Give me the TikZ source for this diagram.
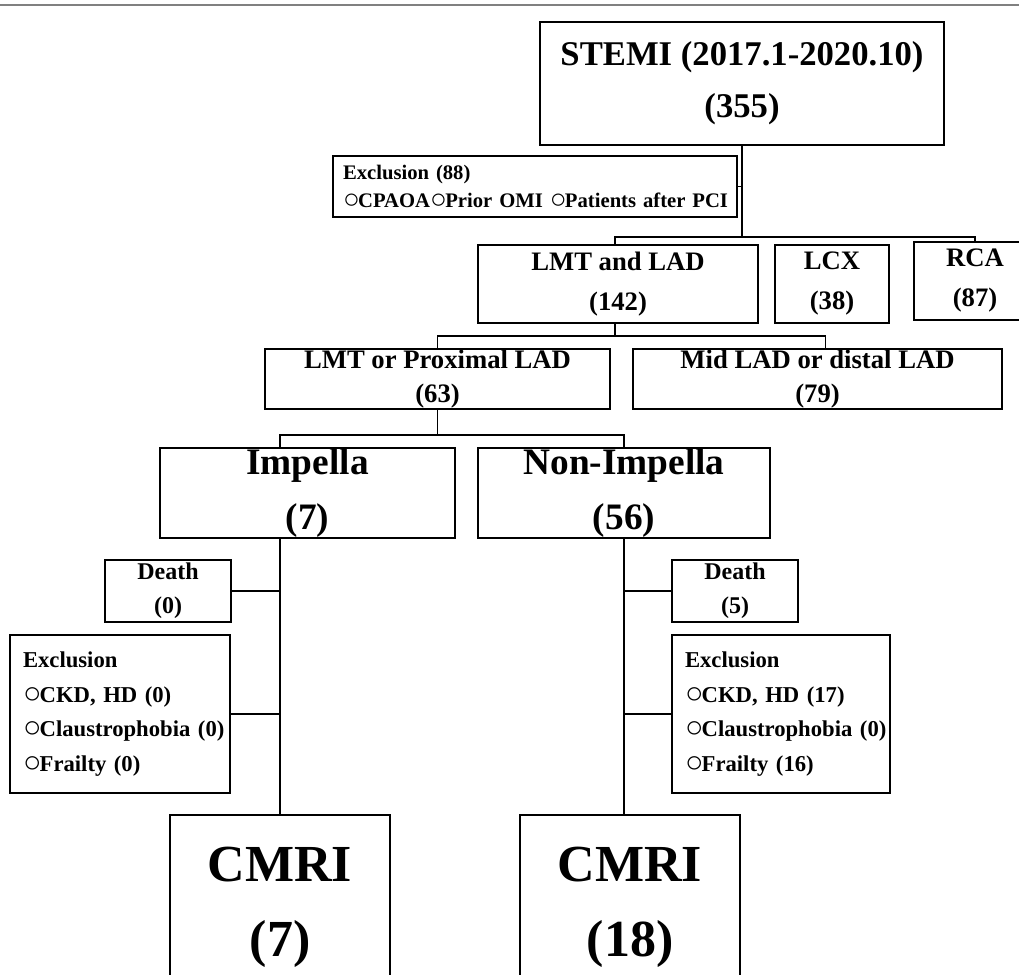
\documentclass[tikz,border=0pt]{standalone}
\usepackage{fontspec}
\setmainfont{Liberation Serif}
\usepackage{graphicx}
\usepackage{tikz}
\usetikzlibrary{positioning}
\newcommand{\fsz}[2]{\fontsize{#1pt}{#2pt}\selectfont\bfseries}
\newcommand{\ci}{\raisebox{-0.05em}{\scalebox{1.35}{○}}\kern-0.08em}

\begin{document}
\begin{tikzpicture}[x=0.75pt,y=-0.75pt,font=\bfseries,
 b/.style={draw,line width=2.2pt,inner sep=0pt,align=center},
 bx/.style 2 args={minimum width=#1*0.75pt,minimum height=#2*0.75pt},
 d/.style={line width=1.2pt}]
\path[use as bounding box] (0,0) rectangle (1019,974);
\clip (0,0) rectangle (1019,974);
\draw[gray,line width=1.6pt] (0,5) -- (1019,5);
% top
\node[b,bx={404}{123},font=\fsz{26}{39}] (stemi) at (742,83.5) {STEMI (2017.1-2020.10)\\(355)};
\node[b,bx={404}{61},font=\fsz{15.5}{21},align=left,text width=288pt,inner xsep=7.5pt] (ex88) at (535,186.5) {\mbox{Exclusion (88)}\\\mbox{\ci CPAOA\ci Prior OMI \ci Patients after PCI}};
% vessels
\node[b,bx={280}{78},font=\fsz{20}{30}] (lad) at (618,284) {LMT and LAD\\(142)};
\node[b,bx={114}{78},font=\fsz{20}{30}] (lcx) at (832,284) {LCX\\(38)};
\node[b,bx={122}{78},font=\fsz{20}{30}] (rca) at (975,281) {RCA\\(87)};
\node[b,bx={345}{60},font=\fsz{20}{25.5}] (prox) at (437.5,379) {LMT or Proximal LAD\\(63)};
\node[b,bx={369}{60},font=\fsz{20}{25.5}] (mid) at (817.5,379) {Mid LAD or distal LAD\\(79)};
% groups
\node[b,bx={295}{90},font=\fsz{28}{41.5}] (imp) at (307.5,493) {Impella\\(7)};
\node[b,bx={292}{90},font=\fsz{28}{41.5}] (nimp) at (624,493) {Non-Impella\\(56)};
\node[b,bx={126}{62},font=\fsz{18}{25.5}] (dth0) at (168,591) {Death\\(0)};
\node[b,bx={126}{62},font=\fsz{18}{25.5}] (dth5) at (735,591) {Death\\(5)};
\node[b,bx={220}{158},font=\fsz{17}{26},align=left,text width=145.5pt,inner xsep=9.75pt] (exl) at (120,714) {\mbox{Exclusion}\\\mbox{\ci CKD, HD (0)}\\\mbox{\ci Claustrophobia (0)}\\\mbox{\ci Frailty (0)}};
\node[b,bx={218}{158},font=\fsz{17}{26},align=left,text width=144pt,inner xsep=9.75pt] (exr) at (781,714) {\mbox{Exclusion}\\\mbox{\ci CKD, HD (17)}\\\mbox{\ci Claustrophobia (0)}\\\mbox{\ci Frailty (16)}};
\node[b,bx={220}{185},font=\fsz{39}{56}] (cmri1) at (280,907.5) {CMRI\\(7)};
\node[b,bx={220}{185},font=\fsz{39}{56}] (cmri2) at (630,907.5) {CMRI\\(18)};
% tree lines
\coordinate (b1) at (742,237);
\coordinate (b2) at (615,336);
\coordinate (b3) at (437.5,435);
\coordinate (lx) at (280,0);
\draw[d] (stemi) -- (b1);
\draw[d] (ex88) -- (ex88 -| b1);
\draw[d] (lad.north -| b2) |- (b1) -| (rca.north);
\draw[d] (lad.south -| b2) -- (b2);
\draw[d] (prox.north) |- (b2) -| ([xshift=6pt]mid.north);
\draw[d] (prox) -- (b3);
\draw[d] (imp.north -| lx) |- (b3) -| (nimp.north);
\draw[d] (imp.south -| lx) -- (cmri1);
\draw[d] (dth0) -- (dth0 -| lx);
\draw[d] (exl) -- (exl -| lx);
\draw[d] (nimp) -- (nimp |- cmri2.north);
\draw[d] (dth5) -- (dth5 -| nimp);
\draw[d] (exr) -- (exr -| nimp);
\end{tikzpicture}
\end{document}
